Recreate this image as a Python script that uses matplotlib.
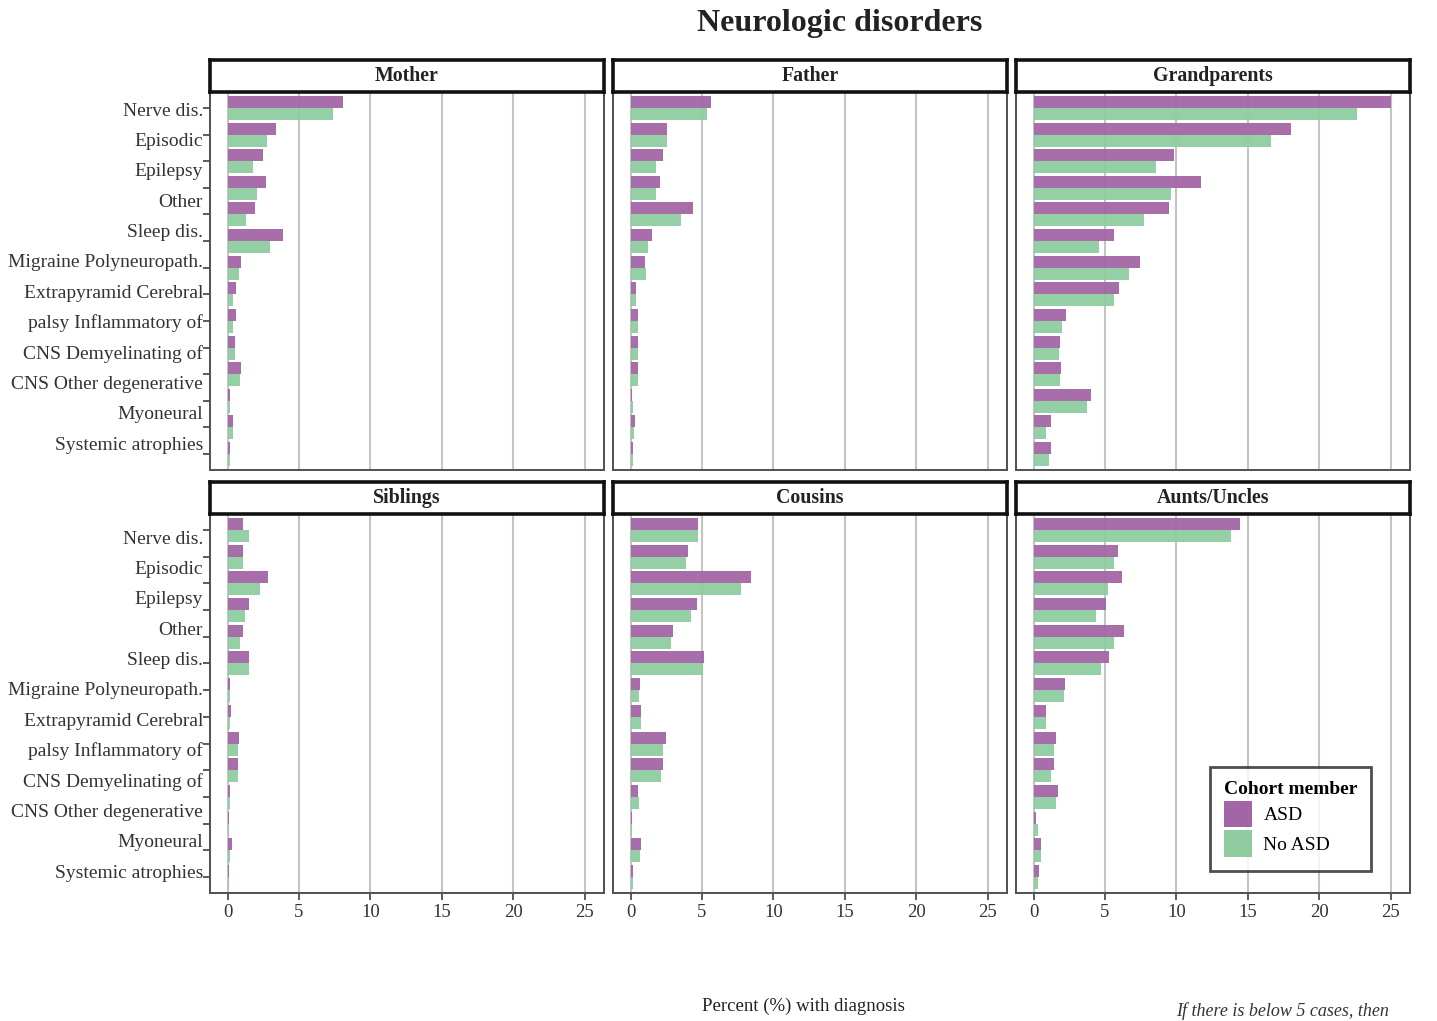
import numpy as np
import matplotlib
matplotlib.use("Agg")
import matplotlib.pyplot as plt
from matplotlib.patches import Patch

plt.rcParams['font.family'] = ['Liberation Serif', 'DejaVu Serif']

# Diagnosis groups (top to bottom) and the wrapped axis text lines
categories = ["Nerve dis.", "Episodic", "Epilepsy", "Other", "Sleep dis.", "Migraine",
              "Polyneuropath.", "Extrapyramid", "Cerebral palsy", "Inflammatory of CNS",
              "Demyelinating of CNS", "Other degenerative", "Myoneural", "Systemic atrophies"]
label_lines = ["Nerve dis.", "Episodic", "Epilepsy", "Other", "Sleep dis.",
               "Migraine Polyneuropath.", "Extrapyramid Cerebral", "palsy Inflammatory of",
               "CNS Demyelinating of", "CNS Other degenerative", "Myoneural", "Systemic atrophies"]

relatives = ["Mother", "Father", "Grandparents", "Siblings", "Cousins", "Aunts/Uncles"]

# Percent with diagnosis, ASD cohort vs. no-ASD cohort
mother_asd = [8.1, 3.4, 2.5, 2.7, 1.95, 3.9, 0.95, 0.6, 0.6, 0.5, 0.95, 0.15, 0.35, 0.15]
mother_no = [7.35, 2.75, 1.75, 2.05, 1.3, 3.0, 0.8, 0.4, 0.4, 0.5, 0.85, 0.15, 0.35, 0.15]
father_asd = [5.6, 2.55, 2.3, 2.05, 4.35, 1.5, 1.0, 0.4, 0.5, 0.5, 0.5, 0.1, 0.3, 0.15]
father_no = [5.35, 2.55, 1.75, 1.75, 3.55, 1.2, 1.1, 0.35, 0.5, 0.5, 0.5, 0.15, 0.25, 0.2]
grand_asd = [25.0, 18.0, 9.8, 11.7, 9.45, 5.65, 7.45, 6.0, 2.3, 1.85, 1.9, 4.0, 1.2, 1.2]
grand_no = [22.65, 16.65, 8.55, 9.6, 7.75, 4.6, 6.7, 5.6, 2.0, 1.75, 1.85, 3.75, 0.9, 1.1]
sib_asd = [1.1, 1.1, 2.85, 1.5, 1.05, 1.5, 0.2, 0.25, 0.8, 0.7, 0.2, 0.08, 0.3, 0.12]
sib_no = [1.5, 1.1, 2.3, 1.2, 0.85, 1.5, 0.2, 0.2, 0.7, 0.7, 0.2, 0.12, 0.2, 0.12]
cous_asd = [4.75, 4.0, 8.4, 4.65, 3.0, 5.15, 0.65, 0.75, 2.45, 2.3, 0.5, 0.12, 0.75, 0.2]
cous_no = [4.75, 3.9, 7.7, 4.2, 2.8, 5.05, 0.6, 0.75, 2.3, 2.1, 0.6, 0.12, 0.65, 0.2]
aunt_asd = [14.45, 5.9, 6.2, 5.1, 6.3, 5.25, 2.2, 0.9, 1.55, 1.4, 1.7, 0.2, 0.55, 0.35]
aunt_no = [13.8, 5.6, 5.2, 4.35, 5.65, 4.75, 2.1, 0.9, 1.45, 1.2, 1.55, 0.3, 0.55, 0.3]

asd_values = [mother_asd, father_asd, grand_asd, sib_asd, cous_asd, aunt_asd]
no_values = [mother_no, father_no, grand_no, sib_no, cous_no, aunt_no]

x_ticks = [0, 5, 10, 15, 20, 25]
col_asd = "#A266A6"
col_no = "#8FCDA0"

W, H = 1437, 1021
fig = plt.figure(figsize=(W / 100, H / 100), dpi=100)

col_left = [210, 613, 1016]
panel_w = 394
row_panel = [(92, 470), (514, 893)]
row_strip = [(60, 92), (482, 514)]
label_span = [(111, 445), (539, 873)]


def fx(px):
    return px / W


def fy(py):
    return 1 - py / H


y = np.arange(len(categories))
bh = 0.45

for i, name in enumerate(relatives):
    r, c = divmod(i, 3)
    top, bot = row_panel[r]
    ax = fig.add_axes([fx(col_left[c]), fy(bot), fx(panel_w), (bot - top) / H])
    ax.barh(y - bh / 2, asd_values[i], height=bh, color=col_asd, alpha=0.95, zorder=2)
    ax.barh(y + bh / 2, no_values[i], height=bh, color=col_no, alpha=0.95, zorder=2)
    ax.set_xlim(-1.23, 26.36)
    ax.set_ylim(len(categories) - 0.4, -0.6)
    ax.set_xticks(x_ticks)
    ax.grid(axis='x', color='#c4c4c4', linewidth=1.5, zorder=1)
    ax.set_axisbelow(True)
    for s in ax.spines.values():
        s.set_color('#505050')
        s.set_linewidth(1.4)
    ax.set_yticks(y)
    ax.set_yticklabels([])
    if c == 0:
        ax.tick_params(axis='y', length=5, width=1.2, color='#404040')
        ltop, lbot = label_span[r]
        for k, line in enumerate(label_lines):
            py = ltop + (lbot - ltop) * k / (len(label_lines) - 1)
            ax.text(-0.018, (bot - py) / (bot - top), line, transform=ax.transAxes,
                    ha='right', va='center', fontsize=14, color='#333333')
    else:
        ax.tick_params(axis='y', length=0)
    if r == 1:
        ax.tick_params(axis='x', length=5, width=1.2, color='#404040',
                       labelsize=13.5, labelcolor='#333333', pad=3)
    else:
        ax.tick_params(axis='x', length=0, labelbottom=False)

    # facet strip
    stop, sbot = row_strip[r]
    sax = fig.add_axes([fx(col_left[c]), fy(sbot), fx(panel_w), (sbot - stop) / H])
    sax.set_xticks([])
    sax.set_yticks([])
    for s in sax.spines.values():
        s.set_color('#111111')
        s.set_linewidth(2.6)
    sax.text(0.5, 0.5, name, ha='center', va='center', fontsize=14.3,
             fontweight='bold', color='#222222', transform=sax.transAxes)

fig.text(fx(840), fy(24), "Neurologic disorders", ha='center', va='center',
         fontsize=23, fontweight='bold', color='#222222')
fig.text(fx(803), fy(1006), "Percent (%) with diagnosis", ha='center', va='center',
         fontsize=13.5, color='#222222')
fig.text(fx(1176), fy(1020), "If there is below 5 cases, then", ha='left', va='bottom',
         fontsize=13, style='italic', color='#333333')

handles = [Patch(facecolor=col_asd, edgecolor='none', label='ASD'),
           Patch(facecolor=col_no, edgecolor='none', label='No ASD')]
leg = fig.legend(handles=handles, title='Cohort member', loc='upper left',
                 bbox_to_anchor=(fx(1210), fy(767)), borderaxespad=0.0,
                 frameon=True, fancybox=False,
                 fontsize=14, title_fontsize=14, handlelength=1.45, handleheight=1.75,
                 labelspacing=0.15, handletextpad=0.6, borderpad=0.7, alignment='left')
leg.get_title().set_fontweight('bold')
leg.get_frame().set_edgecolor('#222222')
leg.get_frame().set_linewidth(2.0)

fig.savefig("out.png", dpi=100)
